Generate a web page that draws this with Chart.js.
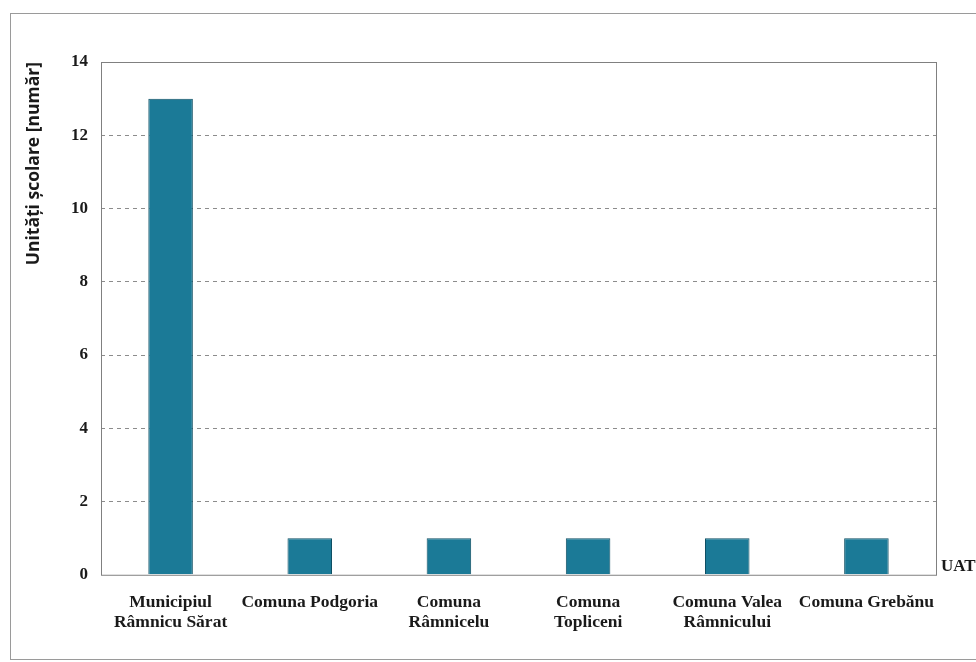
<!DOCTYPE html>
<html>
<head>
<meta charset="utf-8">
<script src="https://cdn.jsdelivr.net/npm/chart.js@4"></script>
<style>
  html, body { margin: 0; padding: 0; background: #fff; }
  #wrap { width: 976px; height: 662px; }
</style>
</head>
<body>
<div id="wrap"><canvas id="myBarChart"></canvas></div>
<script>
var categories = [
    ["Municipiul", "Râmnicu Sărat"],
    "Comuna Podgoria",
    ["Comuna", "Râmnicelu"],
    ["Comuna", "Topliceni"],
    ["Comuna Valea", "Râmnicului"],
    "Comuna Grebănu"
];
var unitati = [13, 1, 1, 1, 1, 1];
var yTicks = [0, 2, 4, 6, 8, 10, 12, 14];

// chenarul exterior, rama zonei de desen si eticheta "UAT"
var frames = {
    id: "frames",
    beforeDraw: function (chart) {
        var c = chart.ctx;
        c.save();
        c.strokeStyle = "#9a9a9a";
        c.lineWidth = 1;
        c.strokeRect(10.5, 13.5, 980, 646);
        c.restore();
    },
    afterDraw: function (chart) {
        var a = chart.chartArea;
        var c = chart.ctx;
        c.save();
        c.strokeStyle = "#808080";
        c.lineWidth = 1;
        c.strokeRect(a.left + 0.5, a.top + 0.5, a.right - a.left, a.bottom - a.top);
        c.fillStyle = "#1a1a1a";
        c.font = "bold 17px 'Liberation Serif', serif";
        c.textBaseline = "middle";
        c.fillText("UAT", a.right + 5, a.bottom - 8);
        c.restore();
    }
};

var ctx = document.getElementById("myBarChart");
var myBarChart = new Chart(ctx, {
    type: "bar",
    data: {
        labels: categories,
        datasets: [{
            data: unitati,
            backgroundColor: "#1b7a97",
            borderColor: "#0f4f63",
            borderWidth: 1,
            barPercentage: 0.32,
            categoryPercentage: 1.0
        }]
    },
    options: {
        responsive: true,
        maintainAspectRatio: false,
        animation: false,
        layout: { padding: { left: 24, top: 62, right: 40, bottom: 11 } },
        plugins: {
            legend: { display: false },
            tooltip: { enabled: false }
        },
        scales: {
            x: {
                grid: { display: false, drawTicks: false },
                border: { display: false },
                ticks: {
                    color: "#1a1a1a",
                    padding: 18,
                    maxRotation: 0,
                    autoSkip: false,
                    font: { family: "'Liberation Serif', serif", size: 17.5, weight: "bold", lineHeight: 1.15 }
                }
            },
            y: {
                min: 0,
                max: 14,
                afterBuildTicks: function (axis) {
                    axis.ticks = yTicks.map(function (v) { return { value: v }; });
                },
                grid: {
                    color: function (c) {
                        return (c.tick.value === 0 || c.tick.value === 14) ? "rgba(0,0,0,0)" : "#8c8c8c";
                    },
                    drawTicks: false
                },
                border: { display: false, dash: [4, 4] },
                ticks: {
                    color: "#1a1a1a",
                    padding: 13,
                    font: { family: "'Liberation Serif', serif", size: 17, weight: "bold" }
                },
                title: {
                    display: true,
                    align: "end",
                    text: "Unități școlare [număr]",
                    color: "#1a1a1a",
                    padding: { top: 0, bottom: 13 },
                    font: { family: "'Open Sans', sans-serif", size: 17.5, weight: "bold" }
                }
            }
        }
    },
    plugins: [frames]
});
</script>
</body>
</html>
